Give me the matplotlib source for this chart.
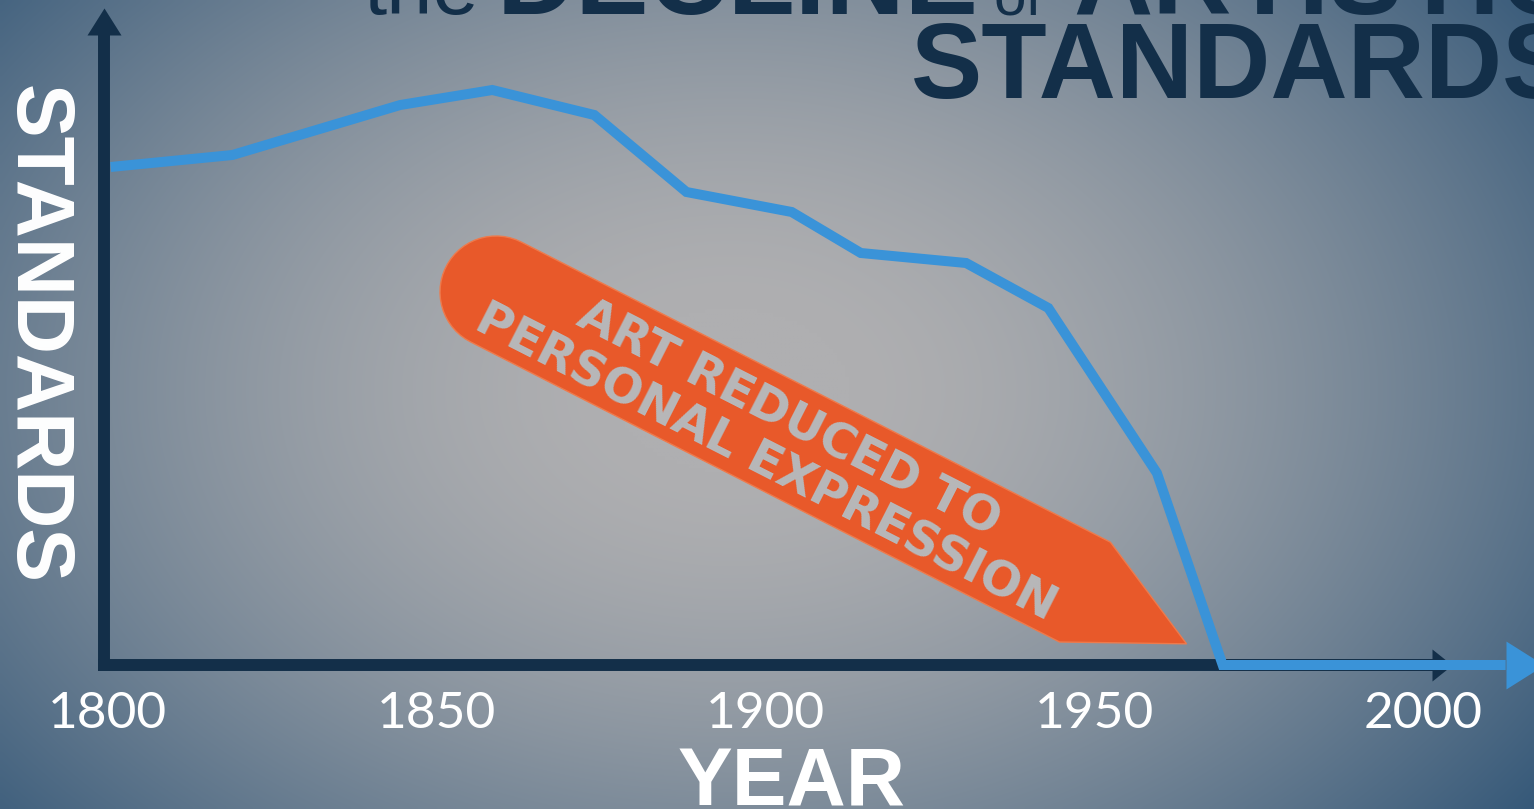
import matplotlib
matplotlib.use("Agg")
import matplotlib.pyplot as plt
import numpy as np
from matplotlib.path import Path
from matplotlib.patches import PathPatch
from matplotlib.transforms import Affine2D

# values
years = [1800.5, 1819, 1844.5, 1858.5, 1874, 1888, 1904, 1914.5, 1930.5, 1943, 1959.5, 1969.5, 2012.5]
standards = [99.6, 102, 112, 115, 110, 94.6, 90.6, 82.4, 80.4, 71.4, 38.4, 0, 0]
tick_years = [1800, 1850, 1900, 1950, 2000]
title_top = ["the", "DECLINE", "of", "ARTISTIC"]
title_bottom = "STANDARDS"
banner_lines = ["ART REDUCED TO", "PERSONAL EXPRESSION"]

W, H = 1534, 809
NAVY = "#132f49"
BLUE = "#3a93d8"
ORANGE = "#e8592a"
BOLD = "Liberation Sans"

fig = plt.figure(figsize=(W / 100, H / 100), dpi=100)

# radial grey -> blue background
bg = fig.add_axes([0, 0, 1, 1])
bg.axis("off")
yy, xx = np.mgrid[0:H:4, 0:W:4]
dist = np.sqrt(((xx - 730) / 1000) ** 2 + ((yy - 390) / 700) ** 2)
mix = np.clip((dist - 0.12) / 0.88, 0, 1.1) ** 1.5
c_in = np.array([175, 175, 177]) / 255
c_out = np.array([54, 89, 121]) / 255
img = np.clip(c_in + (c_out - c_in) * mix[..., None], 0, 1)
bg.imshow(img, extent=[0, W, H, 0], aspect="auto", interpolation="bilinear")
bg.set_xlim(0, W)
bg.set_ylim(H, 0)

# decoration layer in pixel units
deco = fig.add_axes([0, 0, 1, 1])
deco.set_xlim(0, W)
deco.set_ylim(H, 0)
deco.axis("off")
deco.patch.set_alpha(0)

# title (mostly cropped at the top)
top_x = [364, 497, 994, 1073]
top_size = [60, 79, 42, 79]
top_weight = ["normal", "bold", "normal", "bold"]
for word, x, fs, fw in zip(title_top, top_x, top_size, top_weight):
    deco.text(x, 14, word, fontsize=fs, fontweight=fw, family=BOLD,
              color=NAVY, ha="left", va="baseline")
deco.text(911, 98, title_bottom, fontsize=77, fontweight="bold", family=BOLD,
          color=NAVY, ha="left", va="baseline")

# orange banner, built along its own axis then rotated
r = 56
ang = np.linspace(np.pi / 2, 3 * np.pi / 2, 30)
verts = [(0, -r), (661, -r), (775, 0), (661, r)] + list(zip(r * np.cos(ang), r * np.sin(ang)))
verts.append(verts[0])
codes = [Path.MOVETO] + [Path.LINETO] * (len(verts) - 2) + [Path.CLOSEPOLY]
rot = Affine2D().rotate_deg(27).translate(496, 292)
deco.add_patch(PathPatch(Path(verts, codes), transform=rot + deco.transData,
                         facecolor=ORANGE, edgecolor="#ee7a4c", lw=1))
for line, off in zip(banner_lines, [-6, 43]):
    px, py = rot.transform((318, off))
    deco.text(px, py, line, rotation=-27, rotation_mode="anchor", ha="center",
              va="baseline", fontsize=34.6, fontweight="bold", family="DejaVu Sans",
              color="#b7b8ba")

# axis titles
deco.text(15, 85, "STANDARDS", rotation=270, rotation_mode="anchor", ha="left",
          va="baseline", fontsize=58, fontweight="bold", family=BOLD, color="white")
deco.text(792, 805, "YEAR", ha="center", va="baseline", fontsize=59,
          fontweight="bold", family=BOLD, color="white")

# chart layer
ax = fig.add_axes([0, 0, 1, 1])
ax.set_xlim(1783.68, 2016.81)
ax.set_ylim(-28.8, 133)
ax.axis("off")
ax.patch.set_alpha(0)

up_head = Path([(-0.63, 0), (0.63, 0), (0, 1), (-0.63, 0)])
right_head = Path([(0, -0.8), (0, 0.8), (1, 0), (0, -0.8)])
blue_head = Path([(0, -0.63), (0, 0.63), (1, 0), (0, -0.63)])

axis_x = 1799.5
ax.plot([axis_x, axis_x], [0, 126], color=NAVY, lw=8.6, solid_capstyle="projecting")
ax.plot([axis_x, 2001.3], [0, 0], color=NAVY, lw=8.6, solid_capstyle="projecting")
ax.plot(axis_x, 126, marker=up_head, ms=38.9, color=NAVY, mew=0)
ax.plot(2001.3, 0, marker=right_head, ms=28.8, color=NAVY, mew=0)

ax.plot(years, standards, color=BLUE, lw=7.2, solid_joinstyle="miter", solid_capstyle="butt")
ax.plot(years[-1], standards[-1], marker=blue_head, ms=54.7, color=BLUE, mew=0)

for yr in tick_years:
    ax.text(yr, -12.6, str(yr), ha="center", va="baseline", fontsize=37,
            color="white", family=["Lato", "DejaVu Sans"], fontweight="normal")

fig.savefig("out.png", dpi=100)
